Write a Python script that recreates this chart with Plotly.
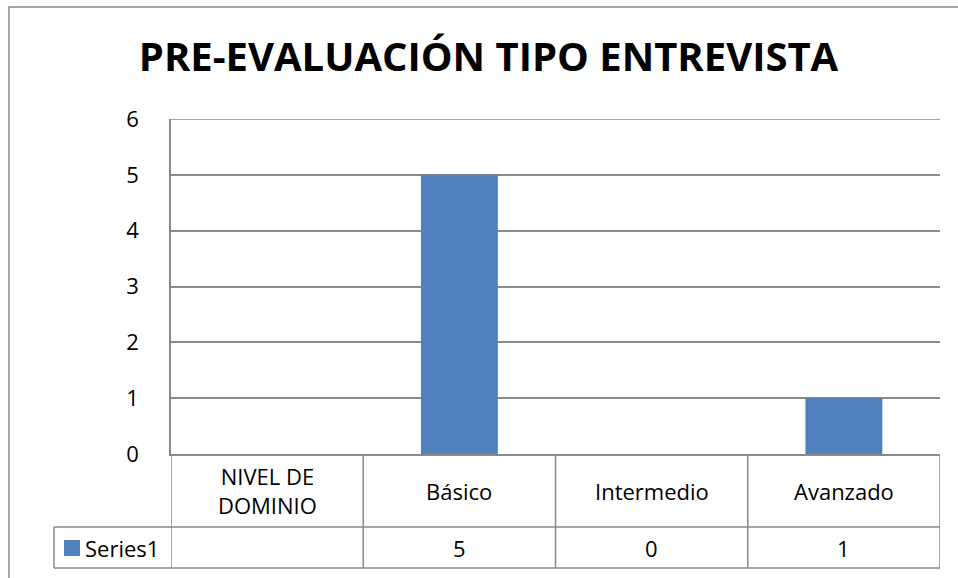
import plotly.graph_objects as go

# ---- data ----
title_text = "PRE-EVALUACIÓN TIPO ENTREVISTA"
categories = ["NIVEL DE DOMINIO", "Básico", "Intermedio", "Avanzado"]
category_labels = ["NIVEL DE<br>DOMINIO", "Básico", "Intermedio", "Avanzado"]
series_name = "Series1"
series_values = [None, 5, 0, 1]
y_ticks = [0, 1, 2, 3, 4, 5, 6]

# ---- style ----
W, H = 958, 578
L, R, T, B = 171, 940, 119, 454
BAR = "#4F81BD"
GRID = "#8A8A8A"
FONT = "Open Sans, Lato, sans-serif"
FS = 22


def px_x(p):
    return (p - L) / (R - L)


def px_y(p):
    return (B - p) / (B - T)


fig = go.Figure()
fig.add_trace(go.Bar(
    x=categories, y=series_values, name=series_name,
    marker=dict(color=BAR, line=dict(width=0)), showlegend=False,
))

shapes = []
line = dict(color=GRID, width=1.5)
# top gridline (max tick)
shapes.append(dict(type="line", xref="paper", yref="y", x0=0, x1=1,
                   y0=y_ticks[-1], y1=y_ticks[-1], line=line, layer="below"))
# table horizontal lines
for yy in (527, 568):
    shapes.append(dict(type="line", xref="paper", yref="paper",
                       x0=px_x(54), x1=px_x(R), y0=px_y(yy), y1=px_y(yy), line=line))
# table left border (legend cell)
shapes.append(dict(type="line", xref="paper", yref="paper",
                   x0=px_x(54), x1=px_x(54), y0=px_y(527), y1=px_y(568), line=line))
# vertical column boundaries
n = len(categories)
for i in range(n + 1):
    shapes.append(dict(type="line", xref="x", yref="paper",
                       x0=i - 0.5, x1=i - 0.5, y0=0, y1=px_y(568), line=line))
# legend key
shapes.append(dict(type="rect", xref="paper", yref="paper",
                   x0=px_x(64), x1=px_x(80), y0=px_y(556), y1=px_y(540),
                   fillcolor=BAR, line=dict(width=0)))
# outer chart border
shapes.append(dict(type="rect", xref="paper", yref="paper",
                   x0=px_x(9), x1=px_x(1000), y0=px_y(640), y1=px_y(7),
                   line=dict(color=GRID, width=1.5), fillcolor="rgba(0,0,0,0)", layer="below"))

annotations = []
for cat, lab, v in zip(categories, category_labels, series_values):
    annotations.append(dict(x=cat, xref="x", y=px_y(490.5), yref="paper",
                            text=lab, showarrow=False, yanchor="middle",
                            font=dict(family=FONT, size=FS, color="#000")))
    annotations.append(dict(x=cat, xref="x", y=px_y(547.5), yref="paper",
                            text="" if v is None else str(v), showarrow=False,
                            yanchor="middle",
                            font=dict(family=FONT, size=FS, color="#000")))
annotations.append(dict(x=px_x(83), xref="paper", y=px_y(547.5), yref="paper",
                        text=series_name, showarrow=False, xanchor="left",
                        yanchor="middle",
                        font=dict(family=FONT, size=FS, color="#000")))

fig.update_layout(
    width=W, height=H,
    margin=dict(l=L, r=W - R, t=T, b=H - B, pad=0),
    paper_bgcolor="white", plot_bgcolor="white",
    title=dict(text="<b>" + title_text + "</b>", x=488.5 / W, xanchor="center",
               y=1 - 57 / H, yanchor="middle",
               font=dict(family=FONT, size=40, color="#000")),
    bargap=0.6,
    xaxis=dict(range=[-0.5, n - 0.5], showticklabels=False, showgrid=False,
               showline=True, linecolor=GRID, linewidth=1.5, ticks="", zeroline=False),
    yaxis=dict(range=[0, 6], tickvals=y_ticks, showgrid=True, gridcolor=GRID, gridwidth=1.5,
               showline=True, linecolor=GRID, linewidth=1.5, zeroline=False,
               ticks="outside", ticklen=0, ticklabelstandoff=26,
               tickfont=dict(family=FONT, size=FS, color="#000")),
    shapes=shapes, annotations=annotations,
)

fig.write_html("out.html", config={"displayModeBar": False},
               post_script="document.body.style.margin='0';document.body.style.overflow='hidden';")
